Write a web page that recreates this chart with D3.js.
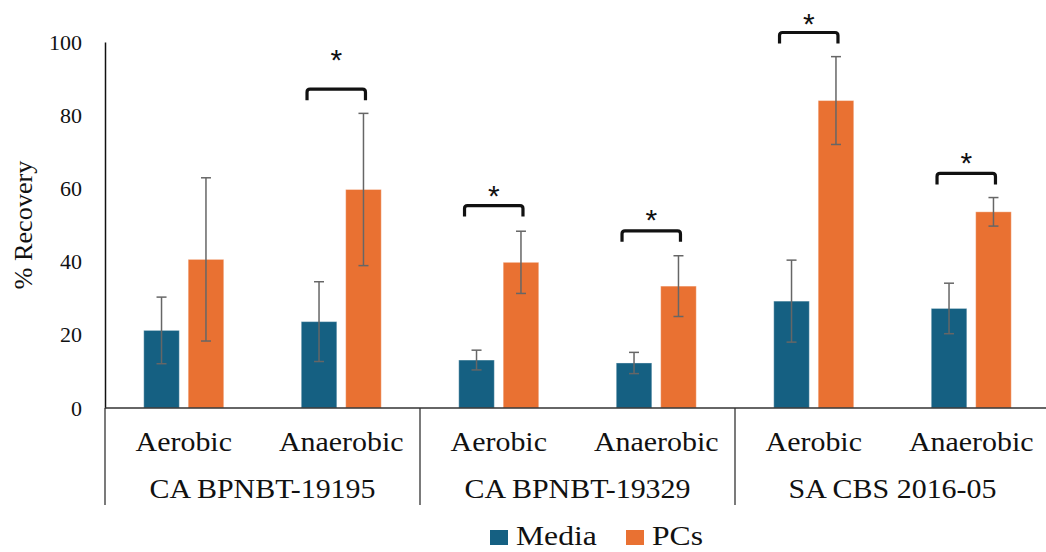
<!DOCTYPE html>
<html>
<head>
<meta charset="utf-8">
<script src="https://cdn.jsdelivr.net/npm/d3@7"></script>
<style>
  html, body { margin: 0; padding: 0; background: #fff; }
  svg { display: block; }
</style>
</head>
<body>
<svg id="chart" width="1046" height="552"></svg>
<script>
// ---- data ----
const strains = ["CA BPNBT-19195", "CA BPNBT-19329", "SA CBS 2016-05"];
const conditions = ["Aerobic", "Anaerobic"];
const series = ["Media", "PCs"];
const mediaMean = [21.2, 23.6, 13.1, 12.3, 29.2, 27.2];
const mediaErr  = [9.1, 10.9, 2.7, 2.9, 11.2, 6.9];
const pcsMean   = [40.6, 59.7, 39.8, 33.3, 84.0, 53.6];
const pcsErr    = [22.3, 20.8, 8.5, 8.3, 12.0, 3.9];
const yTicks = [0, 20, 40, 60, 80, 100];
// significance markers: category index, bracket level and star level (% Recovery)
const sigIndex  = [1, 2, 3, 4, 5];
const sigLevel  = [87.1, 55.3, 48.4, 102.6, 64.1];
const starLevel = [98.3, 61.2, 54.6, 108.0, 70.0];

const colors = { Media: "#156082", PCs: "#e97132" };
const SERIF = '"Liberation Serif", "Times New Roman", Tinos, serif';
const INK = "#111";

// ---- layout ----
const svg = d3.select("#chart");
const plotLeft = 105, plotRight = 1050, plotTop = 42, plotBottom = 408;

const cats = d3.range(strains.length * conditions.length);
const x0 = d3.scaleBand().domain(cats).range([plotLeft, plotRight]).padding(0);
const x1 = d3.scaleBand().domain(series)
  .range([x0.bandwidth() / 2 - 40, x0.bandwidth() / 2 + 40]).paddingInner(0.2);
const y = d3.scaleLinear().domain([0, 100]).range([plotBottom, plotTop]);

const rows = cats.map(i => ({
  i,
  strain: strains[Math.floor(i / conditions.length)],
  cond: conditions[i % conditions.length],
  values: [
    { s: "Media", v: mediaMean[i], e: mediaErr[i] },
    { s: "PCs", v: pcsMean[i], e: pcsErr[i] }
  ]
}));

function label(sel, size) {
  return sel.style("font-family", SERIF).style("font-size", size + "px").attr("fill", INK);
}

// ---- bars ----
const catG = svg.append("g").selectAll("g.cat").data(rows).join("g")
  .attr("class", "cat")
  .attr("transform", d => `translate(${x0(d.i)},0)`);

catG.selectAll("rect").data(d => d.values).join("rect")
  .attr("x", d => x1(d.s))
  .attr("y", d => y(d.v))
  .attr("width", x1.bandwidth())
  .attr("height", d => y(0) - y(d.v))
  .attr("fill", d => colors[d.s])
  .attr("stroke", "#ffffff")
  .attr("stroke-opacity", 0.35)
  .attr("stroke-width", 1);

// ---- error bars ----
const eb = catG.selectAll("g.err").data(d => d.values).join("g").attr("class", "err")
  .attr("stroke", "#666").attr("stroke-width", 1.5).attr("fill", "none");
const cx = d => x1(d.s) + x1.bandwidth() / 2;
eb.append("line").attr("x1", cx).attr("x2", cx)
  .attr("y1", d => y(d.v + d.e)).attr("y2", d => y(d.v - d.e));
eb.append("line").attr("x1", d => cx(d) - 5).attr("x2", d => cx(d) + 5)
  .attr("y1", d => y(d.v + d.e)).attr("y2", d => y(d.v + d.e));
eb.append("line").attr("x1", d => cx(d) - 5).attr("x2", d => cx(d) + 5)
  .attr("y1", d => y(d.v - d.e)).attr("y2", d => y(d.v - d.e));

// ---- significance brackets ----
sigIndex.forEach((ci, k) => {
  const bx0 = x0(ci) + x1("Media") + x1.bandwidth() / 2 - 12;
  const bx1 = x0(ci) + x1("PCs") + x1.bandwidth() / 2 + 2;
  const by = y(sigLevel[k]);
  const r = 3, h = 11;
  const p = d3.path();
  p.moveTo(bx0, by + h);
  p.lineTo(bx0, by + r);
  p.quadraticCurveTo(bx0, by, bx0 + r, by);
  p.lineTo(bx1 - r, by);
  p.quadraticCurveTo(bx1, by, bx1, by + r);
  p.lineTo(bx1, by + h);
  svg.append("path").attr("d", p.toString())
    .attr("fill", "none").attr("stroke", INK).attr("stroke-width", 3.2);
  svg.append("text")
    .attr("x", (bx0 + bx1) / 2)
    .attr("y", y(starLevel[k]))
    .attr("dy", "0.72em")
    .attr("text-anchor", "middle")
    .attr("fill", INK)
    .style("font-family", '"Liberation Sans", Arial, sans-serif')
    .style("font-size", "30px")
    .text("*");
});

// ---- y axis ----
const yAxis = d3.axisLeft(y).tickValues(yTicks).tickSize(0).tickPadding(23);
const ya = svg.append("g").attr("transform", `translate(${plotLeft},0)`).call(yAxis);
ya.select(".domain").attr("stroke", INK).attr("stroke-width", 1.5);
label(ya.selectAll("text"), 22);

label(svg.append("text"), 25)
  .attr("transform", `translate(32,${(plotTop + plotBottom) / 2}) rotate(-90) scale(1.05,1)`)
  .attr("text-anchor", "middle")
  .text("% Recovery");

// ---- x axis with two-level category labels ----
svg.append("line").attr("x1", plotLeft).attr("x2", plotRight)
  .attr("y1", plotBottom).attr("y2", plotBottom)
  .attr("stroke", "#333").attr("stroke-width", 1.5);

const strainBand = d3.scaleBand().domain(strains).range([plotLeft, plotRight]);
// dividers between strains
strains.forEach(s => {
  svg.append("line")
    .attr("x1", strainBand(s)).attr("x2", strainBand(s))
    .attr("y1", plotBottom).attr("y2", plotBottom + 97)
    .attr("stroke", "#333").attr("stroke-width", 1.3);
});

const stretch = 1.07;
rows.forEach(d => {
  const cxp = x0(d.i) + x0.bandwidth() / 2;
  label(svg.append("text"), 28)
    .attr("transform", `translate(${cxp},${plotBottom + 43}) scale(${stretch},1)`)
    .attr("text-anchor", "middle")
    .text(d.cond);
});
strains.forEach(s => {
  const cxp = strainBand(s) + strainBand.bandwidth() / 2;
  label(svg.append("text"), 28)
    .attr("transform", `translate(${cxp},${plotBottom + 90}) scale(${stretch},1)`)
    .attr("text-anchor", "middle")
    .text(s);
});

// ---- legend ----
const legend = svg.append("g");
const legendX = [490, 626];
series.forEach((s, k) => {
  const lg = legend.append("g").attr("transform", `translate(${legendX[k]},530)`);
  lg.append("rect").attr("width", 18).attr("height", 15).attr("fill", colors[s]);
  label(lg.append("text"), 28)
    .attr("transform", `translate(26,15) scale(1.13,1)`)
    .text(s);
});
</script>
</body>
</html>
